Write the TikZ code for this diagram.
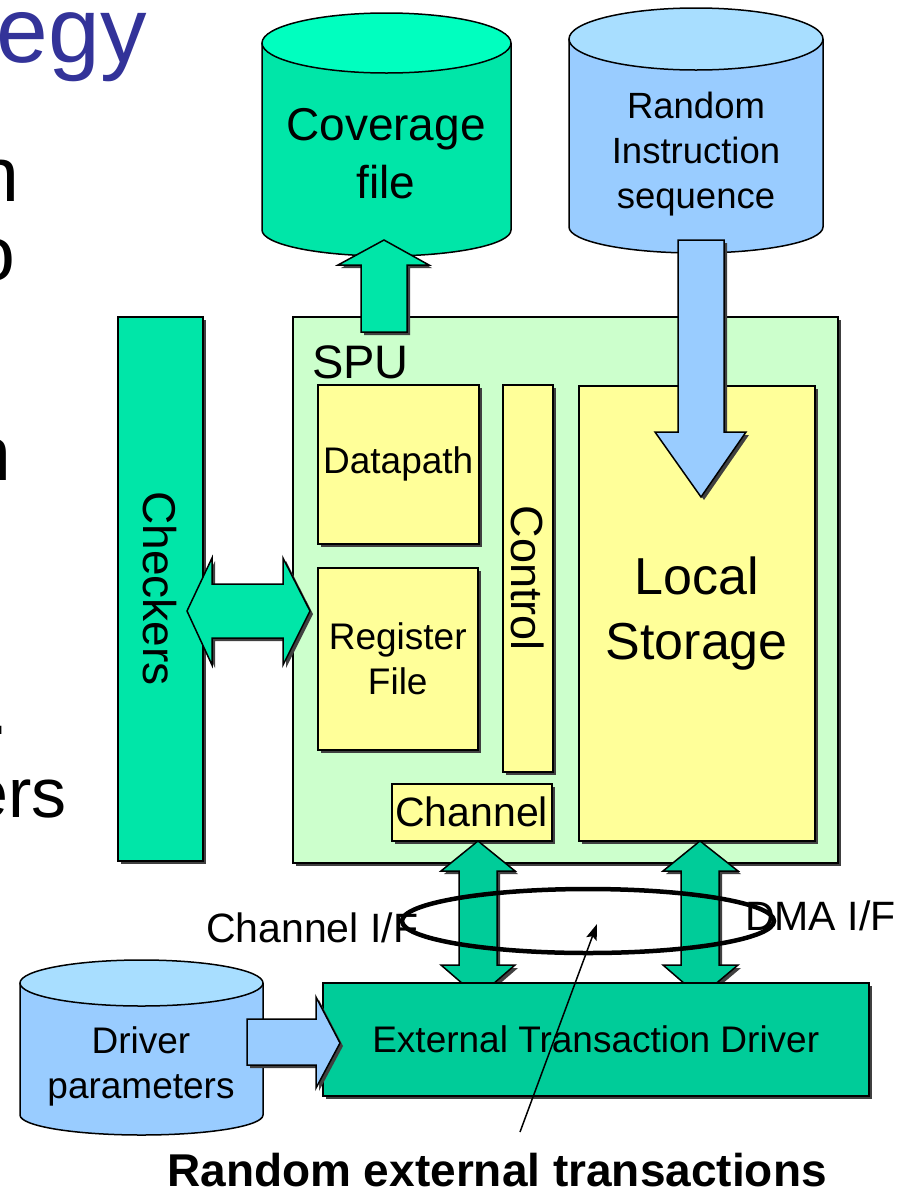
\documentclass[tikz,border=0pt]{standalone}
\usepackage{fontspec}
\setmainfont{Liberation Sans}
\usetikzlibrary{shadows,arrows.meta}

\definecolor{titleblue}{HTML}{333399}
\definecolor{aqua}{HTML}{00E6A8}
\definecolor{aquatop}{HTML}{00FFBF}
\definecolor{deepaqua}{HTML}{00CC99}
\definecolor{sky}{HTML}{99CCFF}
\definecolor{skytop}{HTML}{A8DEFF}
\definecolor{mint}{HTML}{CCFFCC}
\definecolor{paleyellow}{HTML}{FFFF99}

\newcommand\fs[2]{\fontsize{#1}{#2}\selectfont}

% Cylinder: left x, right x, top rim y, bottom rim y, top radius, bottom radius, body colour, lid colour
\newcommand\drum[8]{%
  \draw[edgeline,fill=#7] (#1,#3) -- (#1,#4)
     arc[start angle=180,end angle=0,x radius={(#2-#1)/2},y radius=#6] -- (#2,#3);
  \draw[edgeline,fill=#8] ({(#1+#2)/2},#3) ellipse[x radius={(#2-#1)/2},y radius=#5];
}

\begin{document}
\begin{tikzpicture}[x=1pt,y=-1pt,
  edgeline/.style={draw=black,line width=1.5pt,line join=miter},
  shade3/.style={drop shadow={shadow xshift=3pt,shadow yshift=-3pt,fill=black!75,opacity=1}},
  blk/.style={edgeline,shade3,rectangle,inner sep=0pt,anchor=north west},
  txt/.style={inner sep=0pt,text=black},
  blockarrow/.style={edgeline,shade3},
  pointer/.style={line width=1.5pt,-{Stealth[length=16pt,width=11pt,inset=3pt]}},
]
\useasboundingbox (0,0) rectangle (902,1192);

% ---- slide text running in from the left ----
\node[txt,anchor=base east,text=titleblue,font=\fs{93}{100}] (ttl) at (147,62) {egy};
\node[txt,anchor=base east,font=\fs{77}{84}] (w1) at (20,201) {n};
\node[txt,anchor=base east,font=\fs{77}{84}] (w2) at (16,280) {o};
\node[txt,anchor=base east,font=\fs{77}{84}] (w3) at (12,480) {n};
\node[txt,anchor=base east,font=\fs{77}{84}] (w4) at (9,734) {.};
\node[txt,anchor=base east,font=\fs{70}{84}] (w5) at (67,817) {ers};

% ---- databases ----
\drum{262}{511}{43}{230}{30}{26}{aqua}{aquatop}
\node[txt,align=center,font=\fs{46}{58}] (cov) at (386,154) {Coverage\\file};

\drum{569}{823}{39}{227}{31}{26}{sky}{skytop}
\node[txt,align=center,font=\fs{36.5}{45}] (ris) at (696,154) {Random\\Instruction\\sequence};

% ---- checkers and the SPU ----
\node[blk,fill=aqua,minimum width=85pt,minimum height=544pt] (chk) at (117,316) {};
\node[txt,rotate=-90,font=\fs{46}{50}] (chktxt) at (chk.center) {Checkers};

\node[blk,fill=mint,minimum width=545pt,minimum height=546pt] (spu) at (292,316) {};
\node[txt,anchor=base west,font=\fs{47}{50}] (spulbl) at (312,378) {SPU};

\node[blk,fill=paleyellow,minimum width=161pt,minimum height=159pt,font=\fs{37}{45}] (dp) at (317,384) {Datapath};
\node[blk,fill=paleyellow,minimum width=160pt,minimum height=182pt,font=\fs{37}{45},align=center] (rf) at (317,567) {Register\\File};
\node[blk,fill=paleyellow,minimum width=50pt,minimum height=387pt] (ctl) at (502,384) {};
\node[txt,rotate=-90,font=\fs{45}{50}] (ctltxt) at (ctl.center) {Control};
\node[blk,fill=paleyellow,minimum width=160pt,minimum height=57pt,font=\fs{41}{48}] (chn) at (391,783) {Channel};
\node[blk,fill=paleyellow,minimum width=236pt,minimum height=455pt,font=\fs{52}{65},align=center] (ls) at (578,385) {Local\\Storage};

% ---- block arrows ----
% SPU -> coverage file
\path[blockarrow,fill=aqua] (361,332) -- (361,265) -- (338,265) -- (384,240)
  -- (429,265) -- (407,265) -- (407,332) -- cycle;
% instruction sequence -> local storage
\path[blockarrow,fill=sky] (678,240) -- (678,432) -- (655,432) -- (701,497)
  -- (746,432) -- (724,432) -- (724,240) -- cycle;
% checkers <-> register file
\path[blockarrow,fill=aqua] (187,611) -- (212,558) -- (212,584) -- (283,584)
  -- (283,558) -- (310,611) -- (283,665) -- (283,638) -- (212,638) -- (212,665) -- cycle;
% channel interface
\path[blockarrow,fill=deepaqua] (478,841) -- (515,871) -- (497,871) -- (497,965)
  -- (515,965) -- (478,997) -- (441,965) -- (459,965) -- (459,871) -- (441,871) -- cycle;
% DMA interface
\path[blockarrow,fill=deepaqua] (700,841) -- (738,871) -- (719,871) -- (719,965)
  -- (738,965) -- (700,997) -- (663,965) -- (681,965) -- (681,871) -- (663,871) -- cycle;

% ---- transaction driver ----
\node[blk,fill=deepaqua,minimum width=546pt,minimum height=113pt,font=\fs{37}{45}] (etd) at (322,982) {External Transaction Driver};

\drum{20}{263}{983}{1115}{23}{20}{sky}{skytop}
\node[txt,align=center,font=\fs{37}{45}] (dpar) at (141,1066) {Driver\\parameters};

% driver parameters -> driver
\path[blockarrow,fill=sky] (247,1019) -- (316,1019) -- (316,997) -- (340,1043)
  -- (316,1088) -- (316,1065) -- (247,1065) -- cycle;

% ---- interface labels and the transaction ring ----
\node[txt,anchor=base west,font=\fs{41}{48}] (chif) at (206,942) {Channel I/F};
\node[txt,anchor=base west,font=\fs{41}{48}] (dmaif) at (745,930) {DMA I/F};

\draw[line width=4.5pt] (588,921) ellipse[x radius=186,y radius=32];

\node[txt,anchor=base,font=\bfseries\fs{46}{50}] (rext) at (497,1186) {Random external transactions};
\coordinate (ptrtail) at (520,1132);
\coordinate (ptrhead) at (597,924);
\draw[pointer] (ptrtail) -- (ptrhead);

\end{tikzpicture}
\end{document}
